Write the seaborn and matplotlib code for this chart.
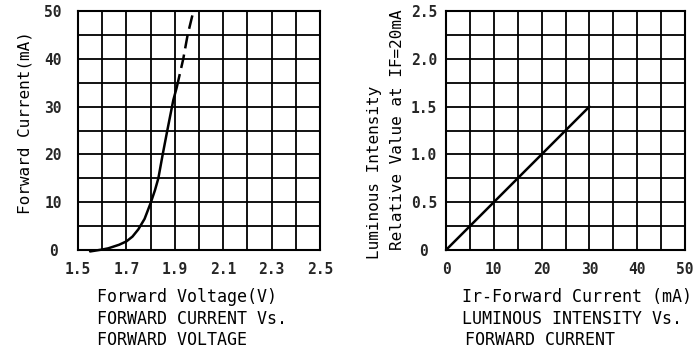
import matplotlib
matplotlib.use("Agg")
import matplotlib.pyplot as plt
import seaborn as sns
import numpy as np
import pandas as pd

# ---- data ----
vf_solid = [1.55, 1.575, 1.60, 1.625, 1.646, 1.67, 1.70, 1.725, 1.749, 1.775, 1.80, 1.818, 1.832, 1.85, 1.869, 1.894, 1.908]
if_solid = [-0.3, -0.1, 0.1, 0.35, 0.7, 1.1, 1.8, 2.8, 4.3, 6.5, 9.8, 12.5, 15.0, 20.0, 25.0, 31.4, 34.0]
vf_dash = [1.908, 1.935, 1.953, 1.977]
if_dash = [34.0, 40.0, 45.0, 50.0]

if_ma = [0, 30]
rel_lum = [0.0, 1.5]

left_xticks = ["1.5", "1.7", "1.9", "2.1", "2.3", "2.5"]
left_yticks = ["0", "10", "20", "30", "40", "50"]
right_xticks = ["0", "10", "20", "30", "40", "50"]
right_yticks = ["0", "0.5", "1.0", "1.5", "2.0", "2.5"]

sns.set_theme(style="white")
plt.rcParams["font.family"] = ["DejaVu Sans Mono", "DejaVu Sans"]

W, H = 698, 351
fig = plt.figure(figsize=(W / 100, H / 100), dpi=100)

def px_axes(l, r, t, b):
    return fig.add_axes([l / W, 1 - b / H, (r - l) / W, (b - t) / H])

ax1 = px_axes(78, 320, 11, 250)
ax2 = px_axes(446, 685, 11, 250)

df_s = pd.DataFrame({"V": vf_solid, "I": if_solid})
df_d = pd.DataFrame({"V": vf_dash, "I": if_dash})
sns.lineplot(data=df_s, x="V", y="I", ax=ax1, color="black", lw=1.8, sort=False)
sns.lineplot(data=df_d, x="V", y="I", ax=ax1, color="black", lw=1.8, sort=False,
             linestyle=(0, (5.5, 2.5)))
df_r = pd.DataFrame({"I": if_ma, "L": rel_lum})
sns.lineplot(data=df_r, x="I", y="L", ax=ax2, color="black", lw=1.8)

tick_font = dict(family="DejaVu Sans Mono", weight="bold", size=10.5)

def style(ax, xlim, ylim, xgrid, ygrid, xlabels_at, xlabels, ylabels_at, ylabels):
    ax.set_xlim(*xlim)
    ax.set_ylim(*ylim)
    ax.set_xlabel("")
    ax.set_ylabel("")
    ax.set_xticks(xgrid)
    ax.set_yticks(ygrid)
    xl = []
    for g in xgrid:
        lab = ""
        for p, s in zip(xlabels_at, xlabels):
            if abs(p - g) < 1e-6:
                lab = s
        xl.append(lab)
    yl = []
    for g in ygrid:
        lab = ""
        for p, s in zip(ylabels_at, ylabels):
            if abs(p - g) < 1e-6:
                lab = s
        yl.append(lab)
    ax.set_xticklabels(xl, fontdict=tick_font)
    ax.set_yticklabels(yl, fontdict=tick_font, ha="center")
    ax.tick_params(axis="both", length=0)
    ax.tick_params(axis="x", pad=9)
    ax.grid(True, color="black", lw=1.3)
    for s in ax.spines.values():
        s.set_color("black")
        s.set_linewidth(1.5)
    ax.set_axisbelow(True)
    ax.set_facecolor("white")

style(ax1, (1.5, 2.5), (0, 50),
      np.round(np.arange(1.5, 2.501, 0.1), 2), np.arange(0, 51, 5),
      [1.5, 1.7, 1.9, 2.1, 2.3, 2.5], left_xticks,
      [0, 10, 20, 30, 40, 50], left_yticks)
ax1.tick_params(axis="y", pad=18)

style(ax2, (0, 50), (0, 2.5),
      np.arange(0, 51, 5), np.round(np.arange(0, 2.501, 0.25), 2),
      [0, 10, 20, 30, 40, 50], right_xticks,
      [0, 0.5, 1.0, 1.5, 2.0, 2.5], right_yticks)
ax2.tick_params(axis="y", pad=16)

for a in (ax1, ax2):
    for ln in a.get_lines():
        ln.set_clip_on(False)

txt = dict(family="DejaVu Sans Mono", size=12, color="black")

def ftext(x, y, s, **kw):
    d = dict(txt)
    d.update(kw)
    fig.text(x / W, 1 - y / H, s, **d)

ftext(25, 123, "Forward Current(mA)", rotation=90, ha="center", va="center", size=11.5)
ftext(97, 297, "Forward Voltage(V)", ha="left", va="center")
ftext(97, 319, "FORWARD CURRENT Vs.", ha="left", va="center")
ftext(97, 340, "FORWARD VOLTAGE", ha="left", va="center")

ftext(375, 172, "Luminous Intensity", rotation=90, ha="center", va="center", size=11.5)
ftext(397, 130, "Relative Value at IF=20mA", rotation=90, ha="center", va="center", size=11.5)
ftext(462, 297, "Ir-Forward Current (mA)", ha="left", va="center")
ftext(462, 319, "LUMINOUS INTENSITY Vs.", ha="left", va="center")
ftext(465, 340, "FORWARD CURRENT", ha="left", va="center")

fig.savefig("out.png", dpi=100, facecolor="white")
